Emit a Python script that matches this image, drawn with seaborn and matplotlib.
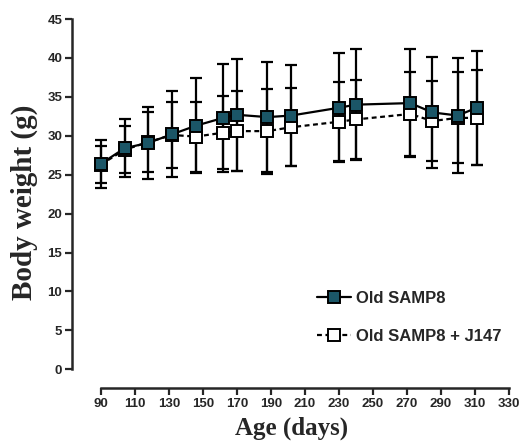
import matplotlib
matplotlib.use("Agg")
import matplotlib.pyplot as plt
import seaborn as sns
import pandas as pd

# --- data --------------------------------------------------------------------
age_days = [90, 104, 118, 132, 146, 162, 170, 188, 202, 230, 240, 272, 285, 300, 311]

old_mean = [26.4, 28.4, 29.1, 30.2, 31.3, 32.3, 32.7, 32.4, 32.6, 33.6, 34.0, 34.2, 33.0, 32.6, 33.6]
old_sd = [3.1, 3.7, 4.6, 5.5, 6.1, 6.9, 7.2, 7.1, 6.5, 7.0, 7.1, 6.9, 7.1, 7.4, 7.3]

j147_mean = [26.3, 28.2, 29.2, 30.1, 29.9, 30.4, 30.6, 30.6, 31.1, 31.8, 32.1, 32.8, 31.9, 32.3, 32.3]
j147_sd = [2.4, 3.0, 3.9, 4.2, 4.5, 4.7, 5.1, 5.45, 5.0, 5.1, 5.1, 5.45, 5.2, 5.85, 6.1]

x_ticks = list(range(90, 331, 20))
y_ticks = list(range(0, 46, 5))

TEAL = "#1b5667"

sns.set_style("ticks")
plt.rcParams["font.family"] = ["Liberation Sans", "DejaVu Sans"]

fig = plt.figure(figsize=(5.21, 4.46), dpi=100)
ax = fig.add_axes([0.138, 0.130, 0.842, 0.8326])

df_old = pd.DataFrame({"age": age_days, "weight": old_mean})
df_j = pd.DataFrame({"age": age_days, "weight": j147_mean})

# error bars first so the squares sit on top
ax.errorbar(age_days, j147_mean, yerr=j147_sd, fmt="none", ecolor="black",
            elinewidth=1.6, capsize=4.5, capthick=1.6, zorder=1)
ax.errorbar(age_days, old_mean, yerr=old_sd, fmt="none", ecolor="black",
            elinewidth=1.6, capsize=4.5, capthick=1.6, zorder=1)

sns.lineplot(data=df_j, x="age", y="weight", ax=ax, color="black",
             linestyle=(0, (2.2, 1.6)), linewidth=1.6, marker="s", markersize=8.5,
             markerfacecolor="white", markeredgecolor="black", markeredgewidth=1.4,
             label="Old SAMP8 + J147", zorder=3)
sns.lineplot(data=df_old, x="age", y="weight", ax=ax, color="black",
             linewidth=1.6, marker="s", markersize=8.5,
             markerfacecolor=TEAL, markeredgecolor="black", markeredgewidth=1.4,
             label="Old SAMP8", zorder=4)

ax.set_xlim(73, 331)
ax.set_ylim(-2.4, 45.3)
ax.set_xticks(x_ticks)
ax.set_yticks(y_ticks)
ax.spines["bottom"].set_bounds(90, 330)
ax.spines["left"].set_bounds(0, 45)
sns.despine(ax=ax)
for s in ["bottom", "left"]:
    ax.spines[s].set_linewidth(1.8)
ax.tick_params(axis="both", direction="out", length=5, width=1.6,
               labelsize=9.5, pad=2)
for lbl in ax.get_xticklabels() + ax.get_yticklabels():
    lbl.set_fontweight("bold")

ax.set_xlabel("Age (days)", fontfamily="Liberation Serif", fontweight="bold",
              fontsize=18, labelpad=5)
ax.set_ylabel("Body weight (g)", fontfamily="Liberation Serif", fontweight="bold",
              fontsize=21, labelpad=7)

handles, labels = ax.get_legend_handles_labels()
order = [labels.index("Old SAMP8"), labels.index("Old SAMP8 + J147")]
ax.legend([handles[i] for i in order], [labels[i] for i in order],
          loc="center left", bbox_to_anchor=(0.525, 0.19), frameon=False,
          prop={"weight": "bold", "size": 12}, handlelength=2.0,
          handletextpad=0.3, labelspacing=1.4, numpoints=1)

fig.savefig("out.png", dpi=100)
